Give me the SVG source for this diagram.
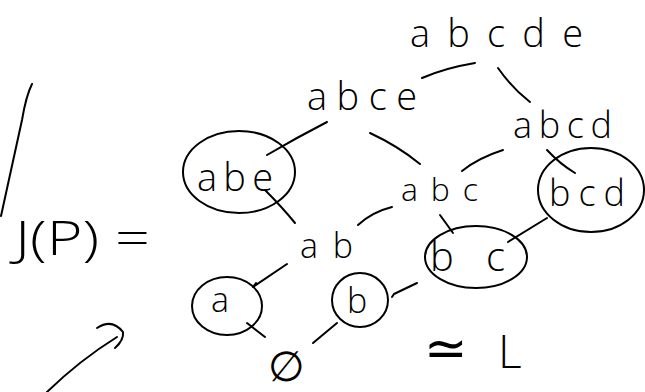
<svg xmlns="http://www.w3.org/2000/svg" width="645" height="392" viewBox="0 0 645 392">
  <style>
    .lbl { font-family: "Open Sans", "DejaVu Sans", sans-serif; font-weight: 300; fill: #000; }
    .ink { fill: none; stroke: #000; stroke-width: 2; stroke-linecap: round; stroke-linejoin: round; }
  </style>
  <rect width="645" height="392" fill="#fff"/>

  <!-- left margin stroke -->
  <path class="ink" d="M32,84 Q26,96 22,120 L1,216"/>

  <!-- equation label -->
  <g id="label-jp">
    <text class="lbl" x="15" y="255" font-size="48" textLength="135" lengthAdjust="spacingAndGlyphs">J(P) =</text>
  </g>

  <!-- hand-drawn arrow -->
  <g id="arrow">
    <path class="ink" d="M47,392 Q80,360 117,337"/>
    <path class="ink" d="M97,328 Q112,318 123,332 Q124,340 115,348"/>
  </g>

  <!-- connectors -->
  <g id="connectors">
    <path class="ink" d="M422,78 Q445,68 475,63"/>
    <path class="ink" d="M498,68 Q512,88 530,102"/>
    <path class="ink" d="M267,155 Q296,138 327,122"/>
    <path class="ink" d="M370,133 Q398,146 420,164"/>
    <path class="ink" d="M462,171 Q478,158 503,150"/>
    <path class="ink" d="M547,150 Q560,164 575,173"/>
    <path class="ink" d="M265,190 Q282,207 295,223"/>
    <path class="ink" d="M358,225 Q372,212 392,207"/>
    <path class="ink" d="M440,215 L453,233"/>
    <path class="ink" d="M508,242 L547,218"/>
    <path class="ink" d="M287,264 L253,287 L256,283"/>
    <path class="ink" d="M417,283 L394,294 L392,297"/>
    <path class="ink" d="M247,323 L265,337"/>
    <path class="ink" d="M337,323 L313,343"/>
  </g>

  <!-- lattice elements -->
  <g id="n-abcde">
    <text class="lbl" x="410" y="47" font-size="38" textLength="173" lengthAdjust="spacing">abcde</text>
  </g>
  <g id="n-abce">
    <text class="lbl" x="307" y="110" font-size="38" textLength="110" lengthAdjust="spacing">abce</text>
  </g>
  <g id="n-abcd">
    <text class="lbl" x="513" y="138" font-size="36" textLength="99" lengthAdjust="spacing">abcd</text>
  </g>
  <g id="n-abe">
    <ellipse class="ink" cx="239" cy="172" rx="56" ry="41"/>
    <text class="lbl" x="197" y="191" font-size="38" textLength="76" lengthAdjust="spacing">abe</text>
  </g>
  <g id="n-abc">
    <text class="lbl" x="401" y="201" font-size="32" textLength="77" lengthAdjust="spacing">abc</text>
  </g>
  <g id="n-bcd">
    <ellipse class="ink" cx="591" cy="190" rx="53" ry="42"/>
    <text class="lbl" x="549" y="206" font-size="36" textLength="76" lengthAdjust="spacing">bcd</text>
  </g>
  <g id="n-ab">
    <text class="lbl" x="300" y="258" font-size="34" textLength="53" lengthAdjust="spacing">ab</text>
  </g>
  <g id="n-bc">
    <ellipse class="ink" cx="476" cy="257" rx="51" ry="31"/>
    <text class="lbl" x="430" y="271" font-size="40" textLength="75" lengthAdjust="spacing">bc</text>
  </g>
  <g id="n-a">
    <ellipse class="ink" cx="227" cy="306" rx="35" ry="29"/>
    <text class="lbl" x="211" y="312" font-size="34">a</text>
  </g>
  <g id="n-b">
    <ellipse class="ink" cx="360" cy="300" rx="28" ry="27"/>
    <text class="lbl" x="347" y="313" font-size="34">b</text>
  </g>
  <g id="n-empty">
    <text class="lbl" x="268" y="381" font-size="42">∅</text>
  </g>

  <!-- isomorphism note -->
  <g id="label-iso">
    <text class="lbl" x="424" y="366" font-size="52">≃</text>
    <text class="lbl" x="498" y="368" font-size="46">L</text>
  </g>
</svg>
